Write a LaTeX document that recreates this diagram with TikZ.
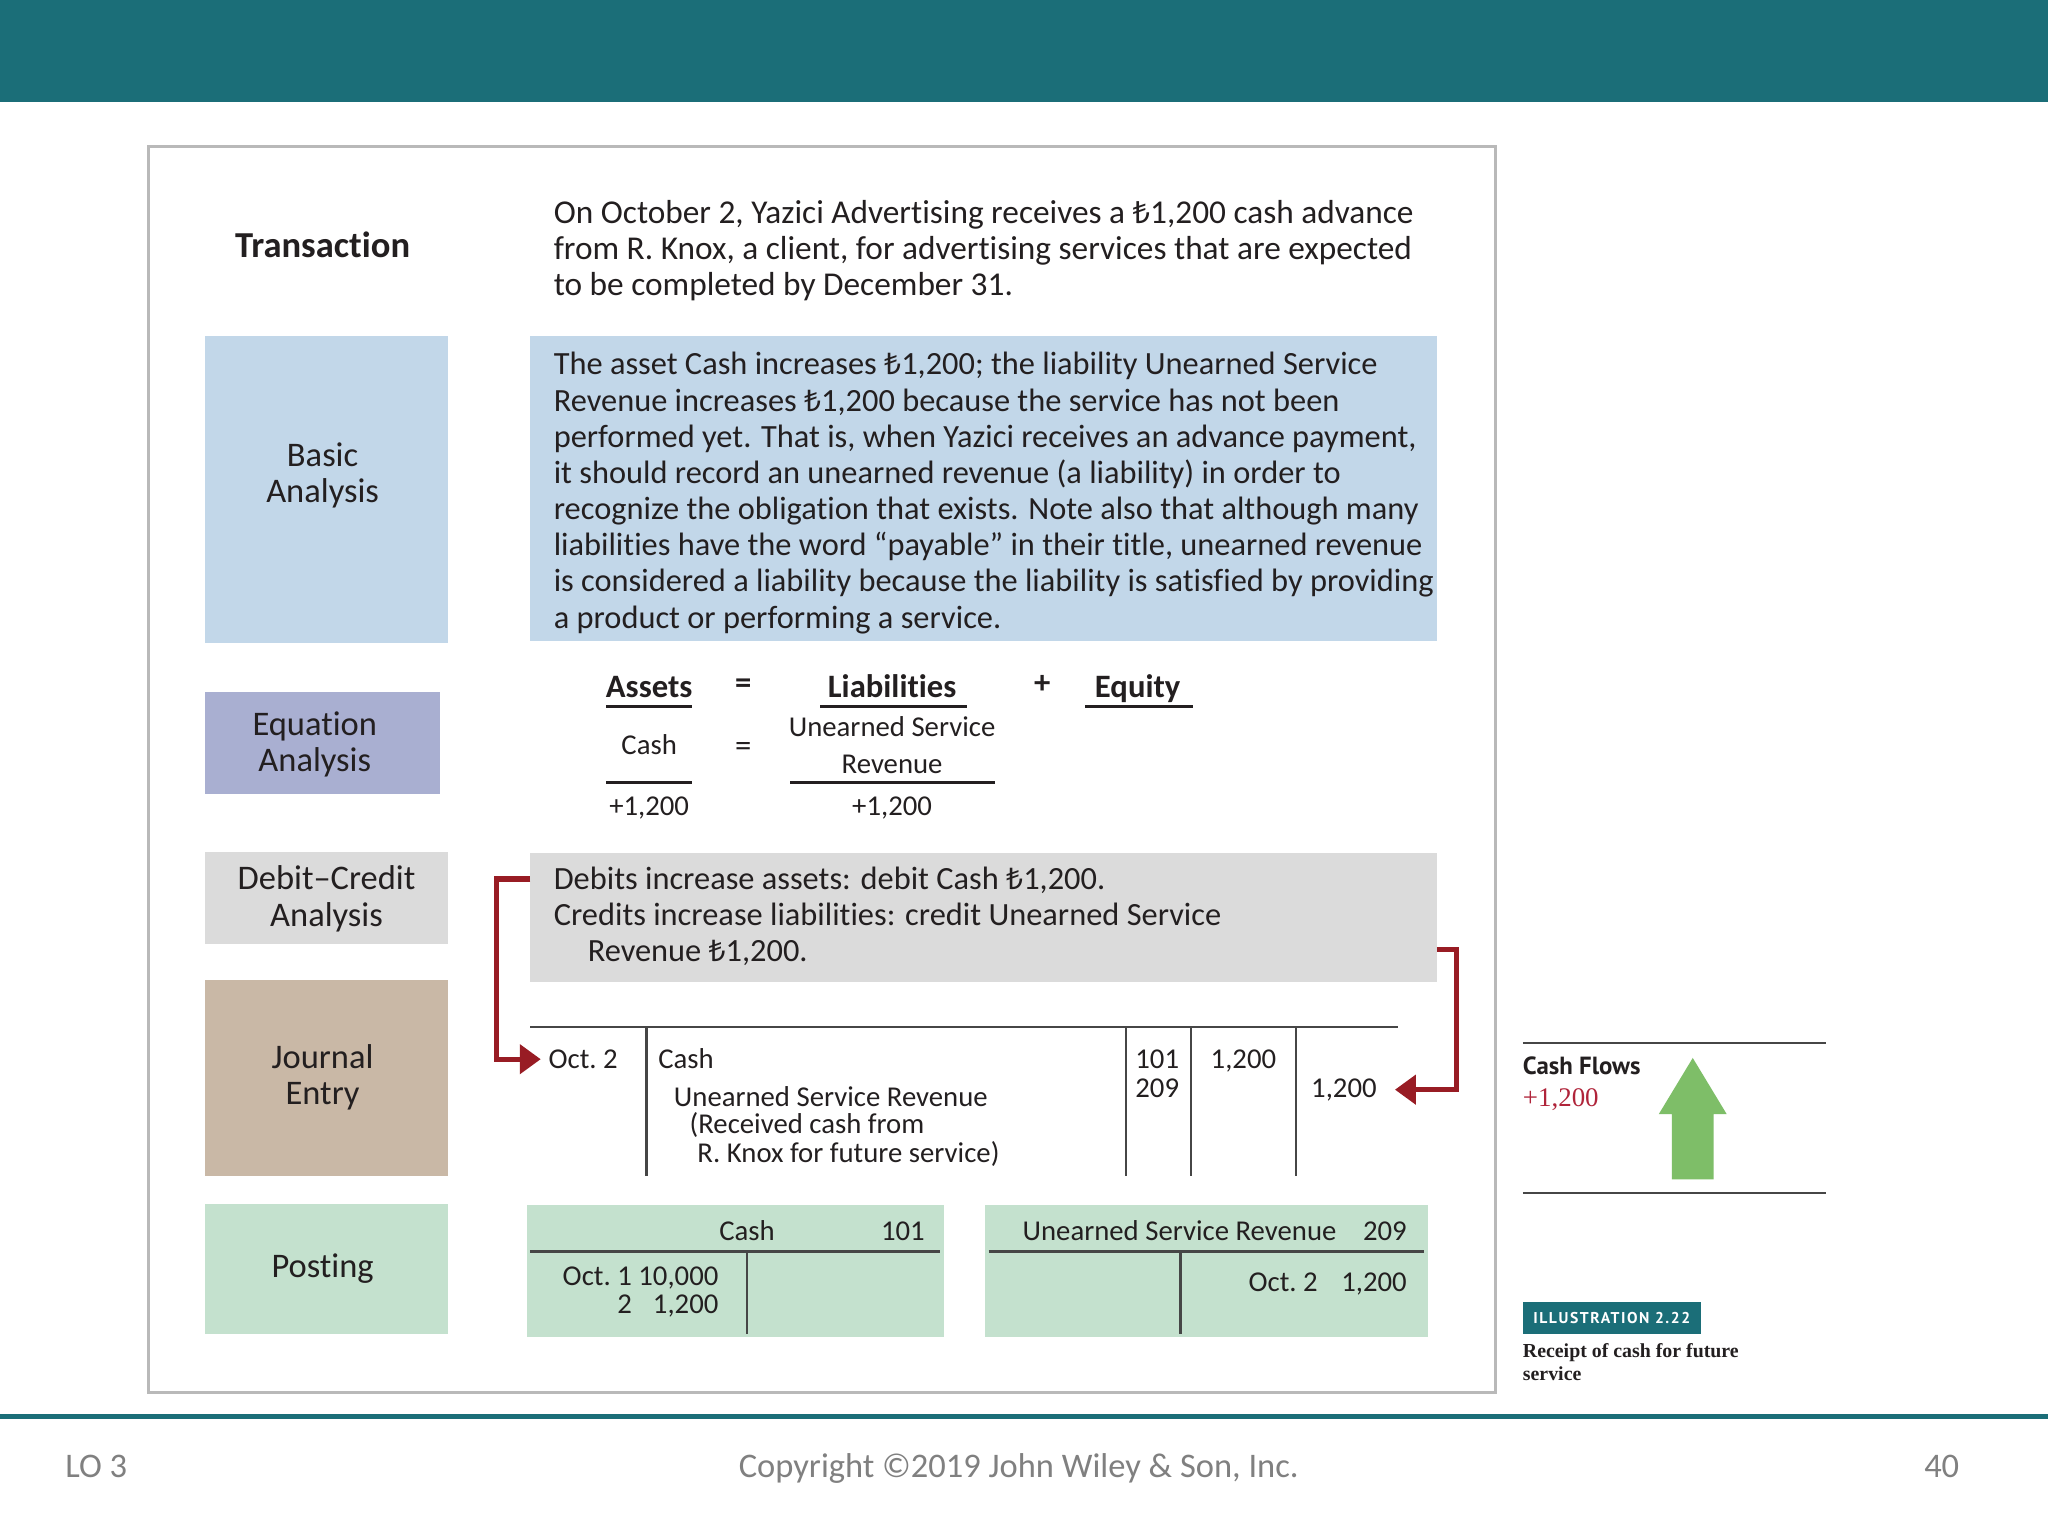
\documentclass[tikz,border=0pt]{standalone}
\usepackage{fontspec}
\setmainfont{Carlito}[Ligatures={NoCommon,NoContextual}, Contextuals=NoAlternate]
\newfontfamily\lirafont[Scale=0.92]{Noto Sans}
\newfontfamily\cfsans{PT Sans}
\newfontfamily\illfont[LetterSpace=10]{PT Sans}
\newfontfamily\capserif{Liberation Serif}
\usetikzlibrary{arrows.meta,calc}
\newcommand\TL{{\lirafont ₺}}
\newcommand\leftlines[1]{\vtop{\halign{##\hfil\cr#1\crcr}}}
\newcommand\centerlines[1]{\vtop{\halign{\hfil##\hfil\cr#1\crcr}}}
\newcommand\twocolr[1]{\vtop{\halign{\hfil##\hskip2.5pt&\hfil##\cr#1\crcr}}}
\definecolor{bannerteal}{RGB}{27,110,120}
\definecolor{framegray}{RGB}{185,185,185}
\definecolor{ink}{RGB}{35,31,32}
\definecolor{lblue}{RGB}{194,215,233}
\definecolor{lavender}{RGB}{169,175,209}
\definecolor{lgray}{RGB}{219,219,219}
\definecolor{ltan}{RGB}{201,184,166}
\definecolor{mint}{RGB}{196,225,206}
\definecolor{arrowred}{RGB}{152,28,36}
\definecolor{cfgreen}{RGB}{126,190,104}
\definecolor{cfred}{RGB}{176,36,58}
\definecolor{footgray}{RGB}{128,128,128}
\definecolor{linegray}{RGB}{70,70,70}
\begin{document}
\begin{tikzpicture}[x=0.5pt,y=-0.5pt,
  every node/.style={inner sep=0pt, outer sep=0pt, text=ink},
  panel/.style n args={3}{fill=#1, minimum width=#2, minimum height=#3, anchor=north west},
  bodyt/.style={font=\fontsize{12.4}{13.85}\selectfont, anchor=base west},
  lbl/.style={font=\fontsize{13.2}{14}\selectfont, anchor=base},
  smallt/.style={font=\fontsize{11}{11}\selectfont},
  hd/.style={font=\bfseries\fontsize{12.5}{14}\selectfont, anchor=base},
  eqsym/.style={font=\bfseries\fontsize{12.5}{14}\selectfont, anchor=base},
  foot/.style={font=\fontsize{13.2}{15}\selectfont, text=footgray},
  eqrule/.style={line width=1pt, ink},
  tline/.style={line width=0.8pt, linegray},
  pline/.style={line width=1pt, linegray},
  redarrow/.style={arrowred, line width=2pt, -{Triangle[length=8pt,width=11pt]}},
]
\useasboundingbox (0,0) rectangle (1568,1176);
\fill[white] (0,0) rectangle (1568,1176);
% banner and frame
\fill[bannerteal] (0,0) rectangle (1568,78);
\draw[framegray, line width=1.2pt] (114,112) rectangle (1145,1066);
\draw[bannerteal, line width=1.6pt] (0,1084.5) -- (1568,1084.5);
% footer
\node[foot, anchor=base west] (lo) at (50,1131) {LO 3};
\node[foot, anchor=base] (copy) at (780,1131) {Copyright ©2019 John Wiley \& Son, Inc.};
\node[foot, anchor=base east] (pg) at (1500,1131) {40};

% left panels
\node[panel={lblue}{93pt}{117.5pt}] (basicbox) at (157,257) {};
\node[panel={lavender}{90pt}{39pt}] (eqbox) at (157,530) {};
\node[panel={lgray}{93pt}{35.5pt}] (dclbox) at (157,652) {};
\node[panel={ltan}{93pt}{75pt}] (jebox) at (157,750) {};
\node[panel={mint}{93pt}{49.5pt}] (postbox) at (157,922) {};

\node[font=\bfseries\fontsize{14}{16}\selectfont, anchor=base] (trlbl) at (247,197) {Transaction};
\node[lbl] (basiclbl) at (247,357) {\centerlines{Basic\cr Analysis}};
\node[lbl] (eqlbl) at (241,563) {\centerlines{Equation\cr Analysis}};
\node[lbl] (dclbl) at (250,681) {\centerlines{Debit--Credit\cr Analysis}};
\node[lbl] (jelbl) at (247,818) {\centerlines{Journal\cr Entry}};
\node[lbl] (postlbl) at (247,978) {Posting};

% transaction text
\node[bodyt, font=\fontsize{12.75}{13.85}\selectfont] (trtext) at (424,171) {\leftlines{On October 2, Yazici Advertising receives a \TL1,200 cash advance\cr
from R. Knox, a client, for advertising services that are expected\cr
to be completed by December 31.}};

% basic analysis
\node[panel={lblue}{347pt}{117pt}] (batbox) at (406,257) {};
\node[bodyt] (battext) at (424,287) {\leftlines{The asset Cash increases \TL1,200; the liability Unearned Service\cr
Revenue increases \TL1,200 because the service has not been\cr
performed yet. That is, when Yazici receives an advance payment,\cr
it should record an unearned revenue (a liability) in order to\cr
recognize the obligation that exists. Note also that although many\cr
liabilities have the word “payable” in their title, unearned revenue\cr
is considered a liability because the liability is satisfied by providing\cr
a product or performing a service.}};

% equation analysis
\node[hd] (assets) at (497,534) {Assets};
\node[eqsym] (eq1) at (569,531) {=};
\node[hd] (liab) at (683,534) {Liabilities};
\node[eqsym] (plus) at (798,531) {+};
\node[hd] (equity) at (871,534) {Equity};
\draw[eqrule] (464,541) -- (530,541);
\draw[eqrule] (628,541) -- (740,541);
\draw[eqrule] (831,541) -- (913,541);
\node[smallt, anchor=base] (eqcash) at (497,578) {Cash};
\node[eqsym, font=\fontsize{12.5}{14}\selectfont] (eq2) at (569,579) {=};
\node[font=\fontsize{11}{14}\selectfont, anchor=base] (equsr) at (683,564) {\centerlines{Unearned Service\cr Revenue}};
\draw[eqrule] (464,599) -- (530,599);
\draw[eqrule] (605,599) -- (762,599);
\node[smallt, anchor=base] (eqv1) at (497,624) {+1,200};
\node[smallt, anchor=base] (eqv2) at (683,624) {+1,200};

% debit-credit analysis
\node[panel={lgray}{347pt}{49.5pt}] (dcbox) at (406,653) {};
\node[bodyt] (dctext) at (424,681) {\leftlines{Debits increase assets: debit Cash \TL1,200.\cr
Credits increase liabilities: credit Unearned Service\cr
\hskip13pt Revenue \TL1,200.}};

% journal entry
\draw[tline] (406,786) -- (1070,786);
\foreach \xx in {495,862,912,992} \draw[tline] (\xx,786) -- (\xx,900);
\node[smallt, anchor=base west] (jdate) at (420,818) {Oct.\ 2};
\node[smallt, anchor=base west] (jcash) at (504,818) {Cash};
\node[smallt, anchor=base west] (jusr) at (516,847) {Unearned Service Revenue};
\node[smallt, anchor=base west] (jexp1) at (528,868) {(Received cash from};
\node[smallt, anchor=base west] (jexp2) at (534,890) {R. Knox for future service)};
\node[smallt, anchor=base] (j101) at (886,818) {101};
\node[smallt, anchor=base] (j209) at (886,840) {209};
\node[smallt, anchor=base] (jdr) at (952,818) {1,200};
\node[smallt, anchor=base east] (jcr) at (1054,840) {1,200};

% red connectors
\draw[redarrow] ($(dcbox.north west)+(0,20)$) -- ++(-26,0) |- ($(jdate.west)+(-6,0)$);
\draw[redarrow] ($(dcbox.north east)+(0,74)$) -- ++(15,0) |- ($(jcr.east)+(14,0)$);

% posting
\node[panel={mint}{159.5pt}{50.5pt}] (pcashbox) at (403.5,922.5) {};
\node[panel={mint}{169.5pt}{50.5pt}] (pusrbox) at (754,922.5) {};
\node[smallt, anchor=base] (pcashh) at (572,950) {Cash};
\node[smallt, anchor=base east] (pcashn) at (708,950) {101};
\node[smallt, anchor=base west] (pusrh) at (783,950) {Unearned Service Revenue};
\node[smallt, anchor=base east] (pusrn) at (1077,950) {209};
\draw[pline] (406,958) -- (720,958);
\draw[pline] (572,958) -- (572,1021);
\draw[pline] (757,958) -- (1090,958);
\draw[pline] (904,958) -- (904,1021);
\node[smallt, anchor=base east] (pcashdr) at (550,984) {\twocolr{Oct.\ 1&10,000\cr 2&1,200}};
\node[smallt, anchor=base east] (pusrcr) at (1077,989) {Oct.\ 2\hskip9pt 1,200};

% cash flows panel
\draw[line width=0.9pt, linegray] (1166,798.5) -- (1398,798.5);
\draw[line width=0.9pt, linegray] (1166,913.5) -- (1398,913.5);
\node[anchor=base west, font=\cfsans\bfseries\fontsize{9.5}{11}\selectfont] (cf) at (1166,823) {Cash Flows};
\node[anchor=base west, text=cfred, font=\capserif\fontsize{10.3}{12}\selectfont] (cfv) at (1166,847) {+1,200};
\fill[cfgreen] (1296,810) -- (1322,853) -- (1312,853) -- (1312,903) -- (1280,903) -- (1280,853) -- (1270,853) -- cycle;

% illustration caption
\node[panel={bannerteal}{68pt}{12pt}, text=white, font=\illfont\bfseries\fontsize{6}{7}\selectfont] (ill) at (1166,997) {ILLUSTRATION 2.22};
\node[anchor=base west, font=\capserif\bfseries\fontsize{7.6}{9}\selectfont] (cap) at (1166,1039) {\leftlines{Receipt of cash for future\cr service}};
\end{tikzpicture}
\end{document}
